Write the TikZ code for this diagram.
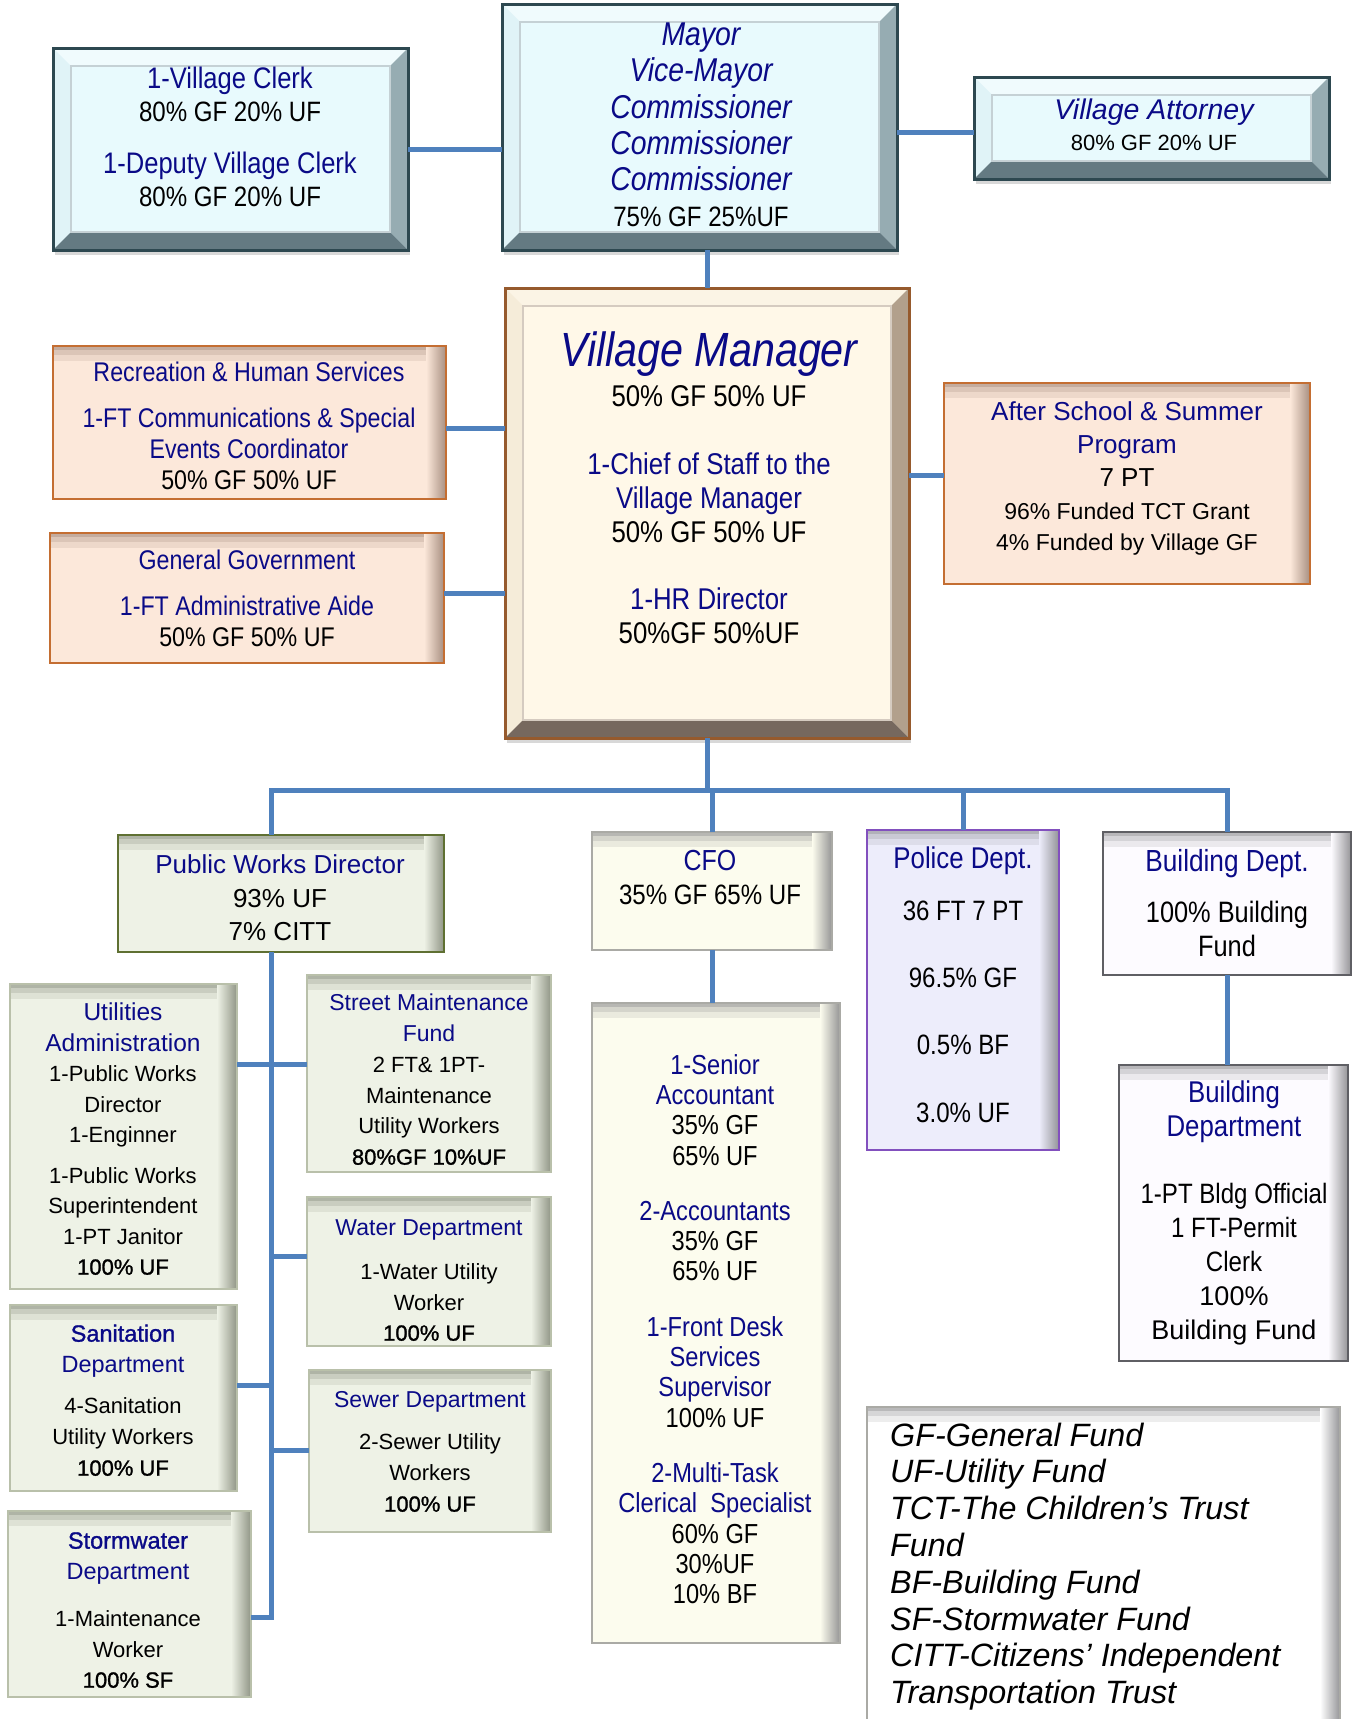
\documentclass[tikz,border=0pt]{standalone}
\usepackage{fontspec}
\setmainfont{Liberation Sans}
\newfontfamily\nar{Liberation Sans}[FakeStretch=0.86]
\newfontfamily\sbfam{Liberation Sans}[FakeBold=1.2]
\usetikzlibrary{shadows}
\newcommand\fs[2]{\fontsize{#1}{#2}\selectfont}
\newcommand\bl[1]{{\color{tblue}#1}}
\newcommand\bli[1]{{\color{tblue}\itshape #1}}
\newcommand\sbt[1]{{\sbfam #1}}
\newcommand\mkbox[6]{\node[#2, minimum width={(#5)-(#3)}, minimum height={(#6)-(#4)}] (#1) at ({((#3)+(#5))/2},{((#4)+(#6))/2}) {};}
\definecolor{conncol}{RGB}{79,129,189}
\definecolor{tblue}{RGB}{10,10,135}
\definecolor{cyanin}{RGB}{232,250,253}
\definecolor{cyanbd}{RGB}{45,72,80}
\definecolor{cyantop}{RGB}{240,251,253}
\definecolor{cyanleft}{RGB}{224,243,247}
\definecolor{cyanmid}{RGB}{150,172,178}
\definecolor{cyandk}{RGB}{100,122,130}
\definecolor{creamin}{RGB}{255,248,232}
\definecolor{brownbd}{RGB}{150,90,45}
\definecolor{creamtop}{RGB}{251,244,229}
\definecolor{creamleft}{RGB}{245,236,217}
\definecolor{creammid}{RGB}{178,160,140}
\definecolor{creamdk}{RGB}{118,104,94}
\definecolor{peach}{RGB}{252,232,218}
\definecolor{peachbd}{RGB}{196,110,50}
\definecolor{peachsh}{RGB}{150,124,110}
\definecolor{sage}{RGB}{238,242,230}
\definecolor{sagebd}{RGB}{185,192,170}
\definecolor{sagesh}{RGB}{125,130,114}
\definecolor{olivebd}{RGB}{95,112,50}
\definecolor{ivory}{RGB}{252,252,238}
\definecolor{ivorybd}{RGB}{170,170,165}
\definecolor{lav}{RGB}{237,237,251}
\definecolor{purplebd}{RGB}{130,80,190}
\definecolor{bldg}{RGB}{253,251,255}
\definecolor{bldgbd}{RGB}{95,95,100}
\definecolor{graysh}{RGB}{128,128,131}
\tikzset{
  conn/.style={draw=conncol, line width=5pt, line join=miter},
  box/.style={draw, inner sep=0pt, outer sep=0pt},
  txt/.style={anchor=mid, align=center, inner sep=0pt, yshift=-8pt},
  ish/.style 2 args={fill=#1, path picture={
     \fill[#2, opacity=0.55] (path picture bounding box.north west) rectangle ([yshift=-4pt]path picture bounding box.north east);
     \fill[#2, opacity=0.32] ([yshift=-4pt]path picture bounding box.north west) rectangle ([yshift=-9pt]path picture bounding box.north east);
     \fill[#2, opacity=0.14] ([yshift=-9pt]path picture bounding box.north west) rectangle ([yshift=-15pt]path picture bounding box.north east);
     \shade[left color=#1, right color=#2] ([xshift=-20pt]path picture bounding box.north east) rectangle ([xshift=4pt]path picture bounding box.south east);
  }},
  bev/.style n args={6}{box, fill=#1, draw=#6, line width=3pt,
    drop shadow={shadow xshift=2pt, shadow yshift=-5pt, opacity=0.3},
    path picture={
     \fill[#2] (path picture bounding box.north west) -- (path picture bounding box.north east) -- ([xshift=-18pt,yshift=-18pt]path picture bounding box.north east) -- ([xshift=18pt,yshift=-18pt]path picture bounding box.north west) -- cycle;
     \fill[#3] (path picture bounding box.north west) -- ([xshift=18pt,yshift=-18pt]path picture bounding box.north west) -- ([xshift=18pt,yshift=18pt]path picture bounding box.south west) -- (path picture bounding box.south west) -- cycle;
     \fill[#4] (path picture bounding box.north east) -- (path picture bounding box.south east) -- ([xshift=-18pt,yshift=18pt]path picture bounding box.south east) -- ([xshift=-18pt,yshift=-18pt]path picture bounding box.north east) -- cycle;
     \fill[#5] (path picture bounding box.south west) -- (path picture bounding box.south east) -- ([xshift=-18pt,yshift=18pt]path picture bounding box.south east) -- ([xshift=18pt,yshift=18pt]path picture bounding box.south west) -- cycle;
     \draw[line width=1.2pt, #4!55!white] ([xshift=18pt,yshift=-18pt]path picture bounding box.north west) rectangle ([xshift=-18pt,yshift=18pt]path picture bounding box.south east);
  }},
  cyanbox/.style={bev={cyanin}{cyantop}{cyanleft}{cyanmid}{cyandk}{cyanbd}},
  creambox/.style={bev={creamin}{creamtop}{creamleft}{creammid}{creamdk}{brownbd}},
  peachbox/.style={box, ish={peach}{peachsh}, draw=peachbd, line width=2.2pt},
  sagebox/.style={box, ish={sage}{sagesh}, draw=sagebd, line width=2pt},
  pwdbox/.style={box, ish={sage}{sagesh}, draw=olivebd, line width=2.2pt},
  ivorybox/.style={box, ish={ivory}{graysh}, draw=ivorybd, line width=2pt},
  lavbox/.style={box, ish={lav}{graysh}, draw=purplebd, line width=2.2pt},
  bldgbox/.style={box, ish={bldg}{graysh}, draw=bldgbd, line width=2pt},
  legbox/.style={box, ish={white}{graysh}, draw=ivorybd, line width=2pt},
}
\begin{document}
\begin{tikzpicture}[x=1pt,y=-1pt]
\useasboundingbox (0,0) rectangle (1355,1719);
\fill[white] (0,0) rectangle (1355,1719);
% boxes
\mkbox{clerk}{cyanbox}{53}{48}{408}{250}
\mkbox{mayor}{cyanbox}{502}{4}{897}{250}
\mkbox{att}{cyanbox}{974}{77}{1329}{179}
\mkbox{vm}{creambox}{505}{288}{909}{738}
\mkbox{rec}{peachbox}{53}{346}{446}{499}
\mkbox{gg}{peachbox}{50}{533}{444}{663}
\mkbox{as}{peachbox}{944}{383}{1310}{584}
\mkbox{pwd}{pwdbox}{118}{835}{444}{952}
\mkbox{cfo}{ivorybox}{592}{832}{832}{950}
\mkbox{pol}{lavbox}{867}{830}{1059}{1150}
\mkbox{bd}{bldgbox}{1103}{832}{1351}{975}
\mkbox{util}{sagebox}{10}{984}{237}{1289}
\mkbox{street}{sagebox}{307}{975}{551}{1172}
\mkbox{water}{sagebox}{307}{1197}{551}{1346}
\mkbox{san}{sagebox}{10}{1305}{237}{1491}
\mkbox{sewer}{sagebox}{309}{1370}{551}{1532}
\mkbox{storm}{sagebox}{8}{1511}{251}{1697}
\mkbox{staff}{ivorybox}{592}{1003}{840}{1643}
\mkbox{bdept}{bldgbox}{1119}{1065}{1348}{1361}
\mkbox{leg}{legbox}{867}{1407}{1340}{1745}
% connectors
\coordinate (busy) at (0,790);
\coordinate (b1) at (0,1064);
\coordinate (b2) at (0,1256);
\coordinate (b3) at (0,1385);
\coordinate (b4) at (0,1450);
\coordinate (b5) at (0,1617);
\coordinate (spx) at ([xshift=-10pt]pwd.south);
\draw[conn] (clerk.east) -- (clerk.east -| mayor.west);
\draw[conn] ([yshift=-4pt]att.west) -- ([yshift=-4pt]att.west -| mayor.east);
\draw[conn] (vm.north) -- (vm.north |- mayor.south);
\draw[conn] ([yshift=-6pt]rec.east) -- ([yshift=-6pt]rec.east -| vm.west);
\draw[conn] ([yshift=5pt]gg.east) -- ([yshift=5pt]gg.east -| vm.west);
\draw[conn] ([yshift=8pt]as.west) -- ([yshift=8pt]as.west -| vm.east);
\draw[conn] (vm.south) -- (vm.south |- busy);
\draw[conn] ([xshift=-10pt]pwd.north) |- (bd.north |- busy) -- (bd.north);
\draw[conn] (cfo.north) -- (cfo.north |- busy);
\draw[conn] (pol.north) -- (pol.north |- busy);
\draw[conn] (cfo.south) -- (staff.north -| cfo.south);
\draw[conn] (bd.south) -- (bdept.north -| bd.south);
\draw[conn] (spx) -- (spx |- b5) -- (storm.east |- b5);
\draw[conn] (util.east |- b1) -- (street.west |- b1);
\draw[conn] (spx |- b2) -- (water.west |- b2);
\draw[conn] (san.east |- b3) -- (spx |- b3);
\draw[conn] (spx |- b4) -- (sewer.west |- b4);
% texts (anchor at the last line)
\node[txt, font=\nar\fs{28}{33}] (tclerk) at (230,196) {\bl{\fs{29.7}{33}1-Village Clerk}\\80\% GF 20\% UF\\[19pt]\bl{\fs{29.7}{33}1-Deputy Village Clerk}\\80\% GF 20\% UF};
\node[txt, font=\nar\fs{33}{36.2}] (tmayor) at (701,216) {\bli{Mayor}\\\bli{Vice-Mayor}\\\bli{Commissioner}\\\bli{Commissioner}\\\bli{Commissioner}\\{\fs{28}{36.2}75\% GF 25\%UF}};
\node[txt, font=\fs{28.5}{31}] (tatt) at (1154,140) {\bli{Village Attorney}\\{\fs{22}{31}80\% GF 20\% UF}};
\node[txt, font=\nar\fs{48}{56}] (tvm) at (709,356) {\bli{Village Manager}};
\node[txt, font=\nar\fs{30}{34}] (tvm2) at (709,633) {50\% GF 50\% UF\\[34pt]\bl{1-Chief of Staff to the}\\\bl{Village Manager}\\50\% GF 50\% UF\\[33pt]\bl{1-HR Director}\\50\%GF 50\%UF};
\node[txt, font=\nar\fs{27}{31}] (trec) at (249,479) {\bl{Recreation \& Human Services}\\[15pt]\bl{1-FT Communications \& Special}\\\bl{Events Coordinator}\\50\% GF 50\% UF};
\node[txt, font=\nar\fs{27}{31}] (tgg) at (247,636) {\bl{General Government}\\[15pt]\bl{1-FT Administrative Aide}\\50\% GF 50\% UF};
\node[txt, font=\fs{26}{33}] (tas) at (1127,540) {\bl{After School \& Summer}\\\bl{Program}\\7 PT\\{\fs{23}{31}96\% Funded TCT Grant}\\[-2pt]{\fs{23}{31}4\% Funded by Village GF}};
\node[txt, font=\fs{26}{33.5}] (tpwd) at (280,930) {\bl{Public Works Director}\\93\% UF\\7\% CITT};
\node[txt, font=\nar\fs{28}{34}] (tcfo) at (710,894) {\bl{\fs{29}{34}CFO}\\35\% GF 65\% UF};
\node[txt, font=\nar\fs{28}{33}] (tpol) at (963,1112) {\bl{\fs{30}{33}Police Dept.}\\[19pt]36 FT 7 PT\\[34pt]96.5\% GF\\[34pt]0.5\% BF\\[35pt]3.0\% UF};
\node[txt, font=\nar\fs{29.5}{34}] (tbd) at (1227,946) {\bl{\fs{30.5}{34}Building Dept.}\\[17pt]100\% Building\\Fund};
\node[txt, font=\fs{22}{30.5}] (tutil) at (123,1264) {\bl{\fs{24.5}{30}Utilities}\\\bl{\fs{24.5}{30}Administration}\\1-Public Works\\Director\\1-Enginner\\[10pt]1-Public Works\\Superintendent\\1-PT Janitor\\\sbt{100\% UF}};
\node[txt, font=\fs{22}{30.8}] (tstreet) at (429,1154) {\bl{\fs{23}{30}Street Maintenance}\\\bl{\fs{23}{30}Fund}\\2 FT\& 1PT-\\Maintenance\\Utility Workers\\\sbt{80\%GF 10\%UF}};
\node[txt, font=\fs{22}{30.5}] (twater) at (429,1330) {\bl{\fs{23}{30}Water Department}\\[14pt]1-Water Utility\\Worker\\\sbt{100\% UF}};
\node[txt, font=\fs{22}{31}] (tsan) at (123,1465) {\bl{\fs{23.5}{30}\sbt{Sanitation}}\\\bl{\fs{23.5}{30}Department}\\[10pt]4-Sanitation\\Utility Workers\\\sbt{100\% UF}};
\node[txt, font=\fs{22}{31}] (tsewer) at (430,1501) {\bl{\fs{23}{30}Sewer Department}\\[11pt]2-Sewer Utility\\Workers\\\sbt{100\% UF}};
\node[txt, font=\fs{22}{30.5}] (tstorm) at (128,1677) {\bl{\fs{23.5}{30}\sbt{Stormwater}}\\\bl{\fs{23.5}{30}Department}\\[17pt]1-Maintenance\\Worker\\\sbt{100\% SF}};
\node[txt, font=\nar\fs{27.5}{30.3}] (tstaff) at (715,1593) {\bl{1-Senior}\\\bl{Accountant}\\35\% GF\\65\% UF\\[25pt]\bl{2-Accountants}\\35\% GF\\65\% UF\\[25pt]\bl{1-Front Desk}\\\bl{Services}\\\bl{Supervisor}\\100\% UF\\[25pt]\bl{2-Multi-Task}\\\bl{Clerical~~Specialist}\\60\% GF\\30\%UF\\10\% BF};
\node[txt, font=\nar\fs{28}{34}] (tbdept) at (1234,1329) {\bl{\fs{30}{34}Building}\\\bl{\fs{30}{34}Department}\\[33pt]1-PT Bldg Official\\1 FT-Permit\\Clerk\\{\rmfamily\fs{27}{34}100\%}\\{\rmfamily\fs{27}{34}Building Fund}};
\node[anchor=mid west, align=left, inner sep=0pt, yshift=-8pt, font=\fs{32.3}{36.8}\itshape] (tleg) at (890,1693) {GF-General Fund\\UF-Utility Fund\\TCT-The Children’s Trust\\Fund\\BF-Building Fund\\SF-Stormwater Fund\\CITT-Citizens’ Independent\\Transportation Trust};
\end{tikzpicture}
\end{document}
